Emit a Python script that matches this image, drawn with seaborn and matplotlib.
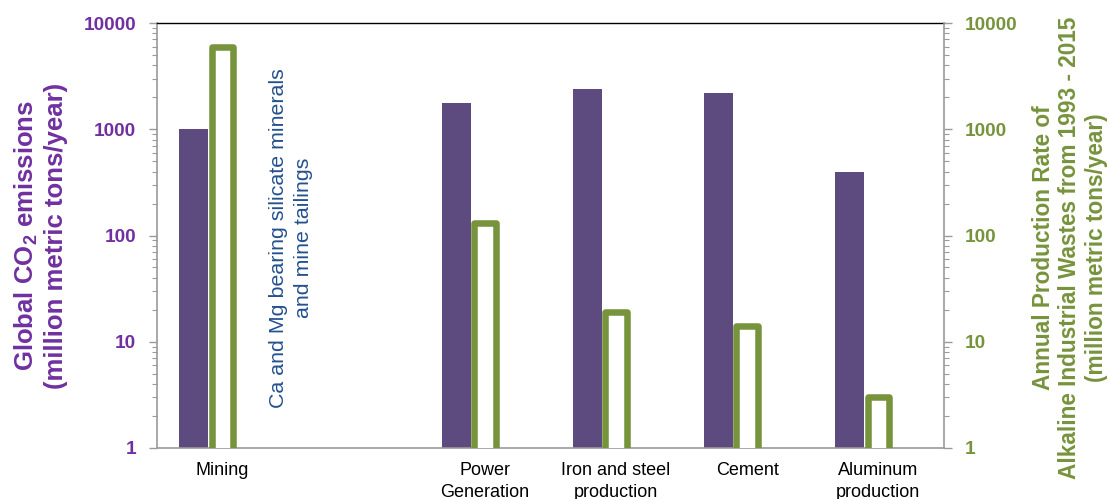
import matplotlib
matplotlib.use("Agg")
import matplotlib.pyplot as plt
import pandas as pd
import seaborn as sns
from matplotlib.ticker import LogLocator, NullFormatter

# ---- data -------------------------------------------------------------
sectors = ["Mining", "Power\nGeneration", "Iron and steel\nproduction",
           "Cement", "Aluminum\nproduction"]
co2_emissions = [1000, 1750, 2380, 2200, 400]          # million metric tons/year
waste_production = [6000, 132, 19, 14.2, 3.05]        # million metric tons/year
y_ticks = [1, 10, 100, 1000, 10000]
y_tick_labels = ["1", "10", "100", "1000", "10000"]

# an empty slot after Mining holds the note about silicate minerals
order = [sectors[0], " "] + sectors[1:]

df = pd.DataFrame({"sector": sectors, "co2": co2_emissions,
                   "waste": waste_production})

# ---- style ------------------------------------------------------------
BAR_PURPLE = "#5D4A7E"
TEXT_PURPLE = "#7030A0"
GREEN = "#77933C"
NOTE_BLUE = "#24508F"
SPINE_GRAY = "#9A9A9A"

sns.set_style("white")
plt.rcParams["font.family"] = ["Liberation Sans", "DejaVu Sans"]
plt.rcParams["mathtext.fontset"] = "custom"
plt.rcParams["mathtext.rm"] = "Liberation Sans"
plt.rcParams["mathtext.bf"] = "Liberation Sans:bold"

W, H = 1109, 499
fig = plt.figure(figsize=(W / 100, H / 100), dpi=100)
ax = fig.add_axes([157 / W, 1 - 448 / H, (944 - 157) / W, (448 - 23) / H])
ax2 = ax.twinx()

# CO2 emissions: solid purple bars, left of each category
sns.barplot(data=df, x="sector", y="co2", order=order, ax=ax,
            color=BAR_PURPLE, saturation=1, width=0.221, linewidth=0,
            errorbar=None, log_scale=True)
for p in ax.patches:
    p.set_x(p.get_x() - 0.22)

# alkaline waste production: hollow green bars on the secondary axis
sns.barplot(data=df, x="sector", y="waste", order=order, ax=ax2,
            color="white", saturation=1, width=0.166, edgecolor=GREEN,
            linewidth=4.7, errorbar=None, log_scale=True)
for p in ax2.patches:
    p.set_joinstyle("round")

# ---- axes -------------------------------------------------------------
for a, side, col in ((ax, "left", TEXT_PURPLE), (ax2, "right", GREEN)):
    a.set_yscale("log")
    a.set_ylim(1, 10000)
    a.set_yticks(y_ticks, labels=y_tick_labels, fontweight="bold",
                 fontsize=13.7, color=col)
    a.yaxis.set_minor_locator(LogLocator(base=10, subs=range(2, 10)))
    a.yaxis.set_minor_formatter(NullFormatter())
    a.tick_params(axis="y", which="major", direction="out", length=6,
                  width=1, color=SPINE_GRAY, pad=9)
    a.tick_params(axis="y", which="minor", direction="out", length=3.5,
                  width=0.8, color=SPINE_GRAY)
    a.grid(False)

ax.set_xlim(-0.5, 5.5)
ax.set_xticks(range(len(order)), labels=order, fontsize=13, color="black",
              linespacing=1.4)
ax.tick_params(axis="x", length=0, pad=10)
ax.set_xlabel("")
ax2.set_xlabel("")

for s in ("left", "bottom"):
    ax.spines[s].set_color(SPINE_GRAY)
    ax.spines[s].set_linewidth(1.2)
ax.spines["top"].set_color("black")
ax.spines["top"].set_linewidth(1.0)
ax.spines["right"].set_visible(False)
for s in ("left", "bottom", "top"):
    ax2.spines[s].set_visible(False)
ax2.spines["right"].set_visible(True)
ax2.spines["right"].set_color(SPINE_GRAY)
ax2.spines["right"].set_linewidth(1.2)

ax.set_ylabel("Global CO$_\\mathbf{2}$ emissions\n(million metric tons/year)",
              fontsize=18.5, fontweight="bold", color=TEXT_PURPLE,
              va="center", ha="center", multialignment="center")
ax.yaxis.set_label_coords((40 - 157) / 787, 0.5)

ax2.set_ylabel("Annual Production Rate of\n"
               "Alkaline Industrial Wastes from 1993 - 2015\n"
               "(million metric tons/year)",
               fontsize=16.3, fontweight="bold", color=GREEN, rotation=90,
               va="center", ha="center", multialignment="center")
ax2.yaxis.set_label_coords((1070 - 157) / 787, 0.4706)

ax.text(0.170, 0.494, "Ca and Mg bearing silicate minerals\nand mine tailings",
        transform=ax.transAxes, rotation=90, ha="center", va="center",
        multialignment="center", linespacing=1.4, fontsize=15.4,
        color=NOTE_BLUE)

fig.savefig("out.png", dpi=100)
